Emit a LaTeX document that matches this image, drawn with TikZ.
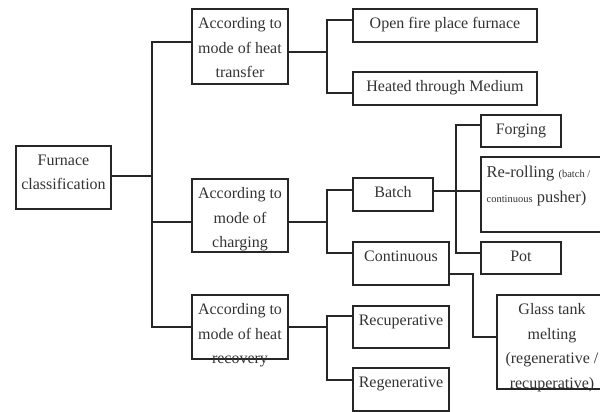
\documentclass[tikz,border=0pt]{standalone}
\usepackage{fontspec}
\setmainfont{Liberation Serif}
\usetikzlibrary{calc}

\tikzset{
    box/.style={draw=black!85, line width=1.2pt, inner sep=0pt},
    txt/.style={align=center, inner sep=0pt, text=black!80,
        font=\fontsize{16}{24.5}\selectfont},
    link/.style={draw=black!85, line width=1.3pt}
}

% box from (x1,y1) to (x2,y2), text hanging from its top
\newcommand{\kbox}[6]{
    \node[box, minimum width={(#4-#2)*1pt}, minimum height={(#5-#3)*1pt}]
        (#1) at ({(#2+#4)/2},{(#3+#5)/2}) {};
    \node[txt, anchor=north] (#1-t) at ([yshift=-9pt]#1.north) {#6};
}
\newcommand{\smalltxt}[1]{{\fontsize{10.5}{12}\selectfont #1}}

\begin{document}
\begin{tikzpicture}[x=1pt, y=-1pt]
\useasboundingbox (0,0) rectangle (600,412);
\clip (0,0) rectangle (600,412);

%\coordinate (sp0) at (150, 0);
\coordinate (sp0) at (152, 0);
\coordinate (sp1) at (327, 0);
\coordinate (sp2) at (456, 0);
\coordinate (sp3) at (473, 0);

\kbox{fc}{16}{146}{111}{209}{Furnace\\classification}

\kbox{heat}{192}{9}{288}{84}{According to\\mode of heat\\transfer}
\kbox{charge}{192}{179}{288}{252}{According to\\mode of\\charging}
\kbox{recov}{192}{295}{288}{359}{According to\\mode of heat\\recovery}

\kbox{openfire}{353}{9}{537}{42}{Open fire place furnace}
\kbox{medium}{353}{72}{537}{105}{Heated through Medium}

\kbox{batch}{353}{178}{433}{211}{Batch}
\kbox{contin}{353}{242}{449}{285}{Continuous}

\kbox{forging}{481}{115}{561}{147}{Forging}
\node[box, minimum width=140pt, minimum height=75pt] (reroll) at (551,194.5) {};
\node[txt, anchor=north west, align=left, font=\fontsize{16.5}{25}\selectfont] (reroll-t)
    at ([xshift=6pt,yshift=-9pt]reroll.north west)
    {Re-rolling \smalltxt{(batch /}\\\smalltxt{continuous} pusher)};
\kbox{pot}{481}{242}{561}{274}{Pot}
\kbox{glass}{497}{295}{607}{389}{Glass tank\\melting\\(regenerative /\\recuperative)}

\kbox{recup}{353}{306}{449}{348}{Recuperative}
\kbox{regen}{353}{368}{449}{411}{Regenerative}

% furnace classification
\draw[link] ([yshift=1.5pt]fc.east) -- ([yshift=1.5pt]fc.east -| sp0);
\draw[link] ([yshift=4.5pt]heat.west) -| (sp0 |- recov.west) -- (recov.west);
\draw[link] ([yshift=-6.5pt]charge.west) -- ([yshift=-6.5pt]charge.west -| sp0);

% heat transfer
\draw[link] ([yshift=-5.5pt]heat.east) -- ([yshift=-5.5pt]heat.east -| sp1);
\draw[link] ([yshift=5.5pt]openfire.west) -| ([yshift=-4.5pt]medium.west -| sp1) -- ([yshift=-4.5pt]medium.west);

% charging
\draw[link] ([yshift=-6.5pt]charge.east) -- ([yshift=-6.5pt]charge.east -| sp1);
\draw[link] ([yshift=4.5pt]batch.west) -| ([yshift=10.5pt]contin.west -| sp1) -- ([yshift=10.5pt]contin.west);

% batch
\draw[link] ([yshift=3.5pt]batch.east) -- ([yshift=3.5pt]reroll.west);
\draw[link] ([yshift=6pt]forging.west) -| ([yshift=5pt]pot.west -| sp2) -- ([yshift=5pt]pot.west);

% continuous
\draw[link] ([yshift=-10.5pt]contin.east) -| ([yshift=5pt]glass.west -| sp3) -- ([yshift=5pt]glass.west);

% heat recovery
\draw[link] (recov.east) -- (recov.east -| sp1);
\draw[link] ([yshift=11pt]recup.west) -| ([yshift=9.5pt]regen.west -| sp1) -- ([yshift=9.5pt]regen.west);
\end{tikzpicture}
\end{document}
